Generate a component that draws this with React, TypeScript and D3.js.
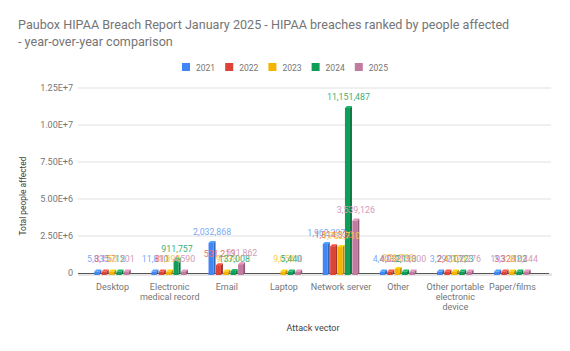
import { useEffect, useRef } from 'react';
import * as d3 from 'd3';

const categories = [
  'Desktop',
  'Electronic medical record',
  'Email',
  'Laptop',
  'Network server',
  'Other',
  'Other portable electronic device',
  'Paper/films',
];
const categoryLines = [
  ['Desktop'],
  ['Electronic', 'medical record'],
  ['Email'],
  ['Laptop'],
  ['Network server'],
  ['Other'],
  ['Other portable', 'electronic', 'device'],
  ['Paper/films'],
];
const years = ['2021', '2022', '2023', '2024', '2025'];

const v2021 = [5835, 11810, 2032868, null, 1962397, 4403, 3292, 193];
const v2022 = [3157, 811, 531213, null, 1814330, 4032, 2410, 3328];
const v2023 = [56, 1894, 9138, 9054, 1752710, 276788, 1720, 8];
const v2024 = [12, 911757, 137008, 5440, 11151487, 2113, 1723, 102];
const v2025 = [501, 4590, 591862, 0, 3539126, 13000, 2276, 2444];
const series = [v2021, v2022, v2023, v2024, v2025];

const yTicks = [0, 2.5e6, 5e6, 7.5e6, 1e7, 1.25e7];

const colors = ['#4285f4', '#db4437', '#f4b400', '#0f9d58', '#c27ba0'];
const labelColors = ['#7baaf7', '#e8736a', '#f7cb4d', '#3fae75', '#d49ab8'];

export default function App() {
  const svgRef = useRef<SVGSVGElement>(null);

  useEffect(() => {
    if (!svgRef.current) return;
    const width = 570;
    const height = 351;
    const svg = d3.select(svgRef.current);
    svg.selectAll('*').remove();
    svg.attr('width', width).attr('height', height);
    const font = 'Roboto, Arial, sans-serif';

    svg.append('rect').attr('width', width).attr('height', height).attr('fill', '#fff');

    // Title
    const title = svg.append('text').attr('font-family', font).attr('font-size', 12.6).attr('fill', '#757575');
    title.append('tspan').attr('x', 18).attr('y', 29).text('Paubox HIPAA Breach Report January 2025 - HIPAA breaches ranked by people affected');
    title.append('tspan').attr('x', 18).attr('y', 46).text('- year-over-year comparison');

    // Legend
    const legend = svg.append('g');
    years.forEach((yr, i) => {
      const lx = 182 + i * 43.2;
      legend.append('rect').attr('x', lx).attr('y', 63).attr('width', 8).attr('height', 8).attr('fill', colors[i]);
      legend
        .append('text')
        .attr('x', lx + 14)
        .attr('y', 70.5)
        .attr('font-family', font)
        .attr('font-size', 8.5)
        .attr('fill', '#757575')
        .text(yr);
    });

    const y = d3.scaleLinear().domain([0, 1.25e7]).range([273, 88]);
    const x0 = d3.scaleBand<string>().domain(categories).range([84, 541]);
    const bw = x0.bandwidth();
    const x1 = d3.scaleBand<string>().domain(years).range([bw * 0.18, bw * 0.82]).paddingInner(0.05);

    // Grid
    const grid = svg.append('g');
    yTicks.forEach((t) => {
      if (t === 0) return;
      grid
        .append('line')
        .attr('x1', 78)
        .attr('x2', 551)
        .attr('y1', y(t))
        .attr('y2', y(t))
        .attr('stroke', '#e0e0e0');
    });
    yTicks.forEach((t) => {
      grid
        .append('text')
        .attr('x', 73)
        .attr('y', y(t) + 3)
        .attr('text-anchor', 'end')
        .attr('font-family', font)
        .attr('font-size', 9)
        .attr('fill', '#757575')
        .text(t === 0 ? '0' : d3.format('.2e')(t).toUpperCase());
    });

    // Floor
    svg.append('rect').attr('x', 78).attr('y', 273).attr('width', 474).attr('height', 3).attr('fill', '#e6e6e6');
    svg
      .append('line')
      .attr('x1', 78)
      .attr('x2', 549)
      .attr('y1', 273.5)
      .attr('y2', 273.5)
      .attr('stroke', '#555')
      .attr('stroke-width', 1);

    // Bars (3D look)
    const d = 2;
    const bars = svg.append('g');
    const labels = svg.append('g');
    categories.forEach((cat, ci) => {
      series.forEach((vals, si) => {
        const v = vals[ci];
        if (v === null) return;
        const bx = (x0(cat) ?? 0) + (x1(years[si]) ?? 0);
        const fw = x1.bandwidth() - d;
        const top = Math.min(y(v), 273 - 1.5);
        const base = 275;
        const c = d3.color(colors[si])!;
        // side face
        bars
          .append('path')
          .attr('d', `M${bx + fw},${top} L${bx + fw + d},${top - d} L${bx + fw + d},${base - d} L${bx + fw},${base} Z`)
          .attr('fill', c.darker(0.8).toString());
        // top face
        bars
          .append('path')
          .attr('d', `M${bx},${top} L${bx + d},${top - d} L${bx + fw + d},${top - d} L${bx + fw},${top} Z`)
          .attr('fill', c.brighter(0.5).toString());
        // front
        bars
          .append('rect')
          .attr('x', bx)
          .attr('y', top)
          .attr('width', fw)
          .attr('height', base - top)
          .attr('fill', colors[si]);

        labels
          .append('text')
          .attr('x', bx + fw / 2 + 1)
          .attr('y', Math.min(top, 270) - d - 6)
          .attr('text-anchor', 'middle')
          .attr('font-family', font)
          .attr('font-size', 8.8)
          .attr('fill', labelColors[si])
          .text(d3.format(',')(v));
      });
    });

    // Category labels
    categories.forEach((cat, ci) => {
      const cx = (x0(cat) ?? 0) + bw / 2;
      const t = svg
        .append('text')
        .attr('text-anchor', 'middle')
        .attr('font-family', font)
        .attr('font-size', 9)
        .attr('fill', '#757575');
      categoryLines[ci].forEach((ln, li) => {
        t.append('tspan').attr('x', cx).attr('y', 289.5 + li * 10).text(ln);
      });
    });

    // Axis titles
    svg
      .append('text')
      .attr('x', 313)
      .attr('y', 331)
      .attr('text-anchor', 'middle')
      .attr('font-family', font)
      .attr('font-size', 9)
      .attr('fill', '#444')
      .text('Attack vector');
    svg
      .append('text')
      .attr('transform', 'translate(25.5,196) rotate(-90)')
      .attr('text-anchor', 'middle')
      .attr('font-family', font)
      .attr('font-size', 8.4)
      .attr('fill', '#444')
      .text('Total people affected');
  }, []);

  return (
    <div style={{ position: 'absolute', left: 0, top: 0 }}>
      <svg ref={svgRef} style={{ display: 'block' }} />
    </div>
  );
}
